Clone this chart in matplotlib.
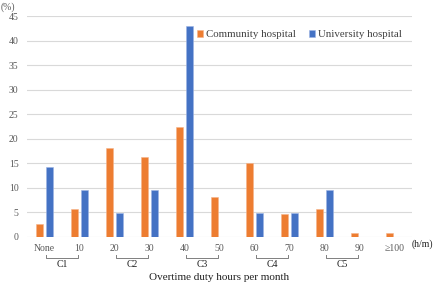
import matplotlib
matplotlib.use("Agg")
import matplotlib.pyplot as plt
import numpy as np
from matplotlib.transforms import blended_transform_factory

plt.rcParams['font.family'] = ['Liberation Serif', 'DejaVu Serif']

categories = ["None", "10", "20", "30", "40", "50", "60", "70", "80", "90", "≥100"]
community = [2.5, 5.6, 18.0, 16.3, 22.4, 8.0, 15.0, 4.7, 5.6, 0.8, 0.8]
university = [14.2, 9.5, 4.8, 9.5, 42.9, 0, 4.8, 4.8, 9.5, 0, 0]
groups = ["C1", "C2", "C3", "C4", "C5"]
group_spans = [(0, 1), (2, 3), (4, 5), (6, 7), (8, 9)]

orange = "#ED7D31"
blue = "#4472C4"

fig = plt.figure(figsize=(4.4, 2.84), dpi=100)
ax = fig.add_axes([27/440, 47.3/284, 385/440, (236.7-16)/284])

x = np.arange(len(categories))
w = 0.21
off = 0.145
ax.bar(x - off, community, w, color=orange, edgecolor="#F6B48A", linewidth=0.4, label="Community hospital", zorder=3)
ax.bar(x + off, university, w, color=blue, edgecolor="#9DB3E3", linewidth=0.4, label="University hospital", zorder=3)

ax.set_xlim(-0.5, len(categories) - 0.5)
ax.set_ylim(0, 45)
ax.set_yticks(np.arange(0, 46, 5))
ax.yaxis.grid(True, color="#D9D9D9", linewidth=0.8, zorder=0)
for s in ax.spines.values():
    s.set_visible(False)
ax.tick_params(axis="both", length=0, labelsize=7, colors="#595959", pad=6)
ax.set_xticks(x)
ax.set_xticklabels(categories)
ax.tick_params(axis="x", pad=5)

fig.text(1/440, 1 - 2/284, "(%)", fontsize=7, color="#595959", ha="left", va="top")
ax.text(1.0, -0.035, "(h/m)", transform=ax.transAxes, fontsize=7, color="#222222", ha="left", va="center")

trans = blended_transform_factory(ax.transData, ax.transAxes)
yb = -(257.7 - 236.7) / (236.7 - 16)
yt = -(254.5 - 236.7) / (236.7 - 16)
for g, (a, b) in zip(groups, group_spans):
    ax.plot([a + 0.05, a + 0.05, b - 0.05, b - 0.05], [yt, yb, yb, yt], transform=trans,
            color="#7F7F7F", linewidth=0.7, clip_on=False)
    ax.text((a + b) / 2, yb - 0.012, g, transform=trans, ha="center", va="top", fontsize=7, color="#222222")

ax.text(0.5, -(277 - 236.7) / (236.7 - 16), "Overtime duty hours per month", transform=ax.transAxes,
        ha="center", va="center", fontsize=8, color="#222222")

leg = ax.legend(loc="upper right", bbox_to_anchor=(1.0, 0.98), ncol=2, frameon=False, fontsize=7.8,
                handlelength=0.55, handleheight=0.55, handletextpad=0.3, columnspacing=1.2,
                labelcolor="#404040")

fig.savefig("out.png", dpi=100)
